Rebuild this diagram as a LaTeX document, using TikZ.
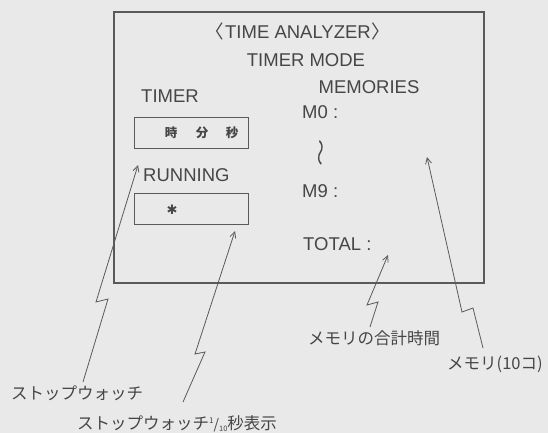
\documentclass[tikz,border=0pt]{standalone}
\usepackage{fontspec}
\setmainfont{Liberation Sans}
\newfontfamily\jp{Noto Sans CJK JP}
\newfontfamily\dv{DejaVu Sans}
\usetikzlibrary{arrows.meta}
\definecolor{bg}{RGB}{233,233,233}
\definecolor{ink}{RGB}{70,70,70}
\definecolor{linec}{RGB}{90,90,90}
\tikzset{
  lab/.style={inner sep=0pt, text=ink, font=\fontsize{18.5}{20}\selectfont},
  jlab/.style={inner sep=0pt, text=ink, font=\jp\fontsize{16.5}{18}\selectfont},
  frame/.style={draw=linec, line width=1.1pt},
  boxx/.style={draw=linec, line width=0.9pt},
  bolt/.style={draw=linec, line width=0.8pt, -{Straight Barb[length=6pt,width=6pt]}},
}
\begin{document}
\begin{tikzpicture}[x=1pt,y=-1pt]
\fill[bg] (0,0) rectangle (548,433);
\useasboundingbox (0,0) rectangle (548,433);
% outer frame
\draw[frame] (114,12) rectangle (484,283);
% titles
\node[lab] (title) at (298,31) {{\jp 〈}\kern1pt TIME ANALYZER\kern1pt{\jp 〉}};
\node[lab] (mode) at (306,60) {TIMER MODE};
\node[lab] (mem) at (369,87) {MEMORIES};
\node[lab, anchor=west] (timer) at (141,96) {TIMER};
\node[lab, anchor=west] (running) at (143,175) {RUNNING};
% boxes
\draw[boxx] (134,117) rectangle (248,148);
\draw[boxx] (134,193) rectangle (248,224);
\node[jlab, font=\jp\bfseries\fontsize{12.5}{14}\selectfont] (hh) at (171,133) {時};
\node[jlab, font=\jp\bfseries\fontsize{12.5}{14}\selectfont] (mm) at (202,133) {分};
\node[jlab, font=\jp\bfseries\fontsize{12.5}{14}\selectfont] (ss) at (232,133) {秒};
\node[inner sep=0pt, text=ink, font=\dv\fontsize{13}{14}\selectfont] (star) at (172,210) {✱};
% memories
\node[lab, anchor=west] (m0) at (302,112) {M0 :};
\node[inner sep=0pt, text=ink, rotate=90, font=\jp\fontsize{16}{18}\selectfont] (wave) at (323,153) {\scalebox{1.7}[1.1]{〜}};
\node[lab, anchor=west] (m9) at (302,191) {M9 :};
\node[lab, anchor=west] (total) at (303,244) {TOTAL :};
% labels
\node[jlab] (sw) at (77,393) {ストップウォッチ};
\node[jlab, anchor=west] (sw10) at (77,424) {ストップウォッチ{\raisebox{0.4em}{\fontsize{8}{9}\selectfont 1}{\fontsize{14}{15}\selectfont/}\raisebox{-0.1em}{\fontsize{7.5}{9}\selectfont 10}}秒表示};
\node[jlab, anchor=west] (sum) at (308,338) {メモリの合計時間};
\node[jlab, anchor=west] (mem10) at (447,364) {メモリ(10コ)};
% bolt points
\coordinate (a0) at (83,382); \coordinate (a1) at (108,299); \coordinate (a2) at (96,302); \coordinate (a3) at (138,165);
\coordinate (b0) at (183,402); \coordinate (b1) at (205,352); \coordinate (b2) at (195,354); \coordinate (b3) at (235,231);
\coordinate (c0) at (370,327); \coordinate (c1) at (378,302); \coordinate (c2) at (367,305); \coordinate (c3) at (388,255);
\coordinate (d0) at (483,348); \coordinate (d1) at (473,308); \coordinate (d2) at (462,312); \coordinate (d3) at (427,157);
\draw[bolt] (a0) -- (a1) -- (a2) -- (a3);
\draw[bolt] (b0) -- (b1) -- (b2) -- (b3);
\draw[bolt] (c0) -- (c1) -- (c2) -- (c3);
\draw[bolt] (d0) -- (d1) -- (d2) -- (d3);
\end{tikzpicture}
\end{document}
